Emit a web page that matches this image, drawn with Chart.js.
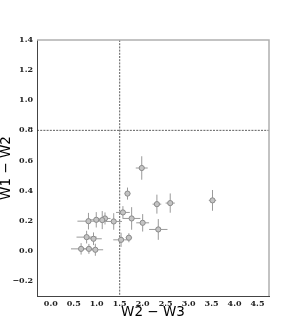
<!DOCTYPE html>
<html><head><meta charset="utf-8">
<script src="https://cdn.jsdelivr.net/npm/chart.js@4"></script>
<style>html,body{margin:0;padding:0;background:#fff}#c{display:block}</style>
</head><body>
<canvas id="c" width="299" height="333"></canvas>
<script>
const xVals = [1.98,1.67,2.31,2.60,3.52,2.34,2.00,1.76,1.57,1.37,1.18,1.12,0.99,0.82,1.53,1.70,0.78,0.93,0.66,0.83,0.97];
const yVals = [0.55,0.38,0.31,0.317,0.335,0.142,0.186,0.215,0.255,0.195,0.215,0.204,0.206,0.197,0.073,0.087,0.091,0.080,0.013,0.013,0.007];
const xErr  = [0.13,0.06,0.095,0.10,0.08,0.20,0.14,0.19,0.15,0.18,0.12,0.05,0.20,0.24,0.17,0.07,0.22,0.18,0.22,0.13,0.17];
const yErr  = [0.078,0.04,0.063,0.064,0.069,0.069,0.058,0.075,0.042,0.055,0.04,0.06,0.051,0.055,0.047,0.03,0.042,0.042,0.038,0.033,0.04];
const xTicks = [0.0,0.5,1.0,1.5,2.0,2.5,3.0,3.5,4.0,4.5];
const yTicks = [-0.2,0.0,0.2,0.4,0.6,0.8,1.0,1.2,1.4];
const xCut = 1.5, yCut = 0.8;

const fmt = v => (v < 0 ? '\u2212' : '') + Math.abs(v).toFixed(1);

const extras = {
  id: 'extras',
  beforeDatasetsDraw(chart) {
    const {ctx, chartArea: a, scales: {x, y}} = chart;
    ctx.save();
    ctx.strokeStyle = '#333';
    ctx.lineWidth = 0.8;
    ctx.setLineDash([2, 1.2]);
    const px = x.getPixelForValue(xCut), py = y.getPixelForValue(yCut);
    ctx.beginPath(); ctx.moveTo(px, a.top); ctx.lineTo(px, a.bottom); ctx.stroke();
    ctx.beginPath(); ctx.moveTo(a.left, py); ctx.lineTo(a.right, py); ctx.stroke();
    ctx.setLineDash([]);
    ctx.strokeStyle = '#9a9a9a';
    ctx.lineWidth = 1;
    for (let i = 0; i < xVals.length; i++) {
      const cx = x.getPixelForValue(xVals[i]), cy = y.getPixelForValue(yVals[i]);
      ctx.beginPath();
      ctx.moveTo(x.getPixelForValue(xVals[i] - xErr[i]), cy);
      ctx.lineTo(x.getPixelForValue(xVals[i] + xErr[i]), cy);
      ctx.moveTo(cx, y.getPixelForValue(yVals[i] - yErr[i]));
      ctx.lineTo(cx, y.getPixelForValue(yVals[i] + yErr[i]));
      ctx.stroke();
    }
    ctx.restore();
  },
  afterDraw(chart) {
    const {ctx, chartArea: a} = chart;
    ctx.save();
    ctx.strokeStyle = '#b0b0b0';
    ctx.lineWidth = 1.5;
    ctx.beginPath();
    ctx.moveTo(a.left, a.top); ctx.lineTo(a.right, a.top); ctx.lineTo(a.right, a.bottom);
    ctx.stroke();
    ctx.restore();
  }
};

new Chart(document.getElementById('c'), {
  type: 'scatter',
  data: {
    datasets: [{
      data: xVals.map((v, i) => ({x: v, y: yVals[i]})),
      pointRadius: 2.6,
      pointBackgroundColor: '#c4c4c4',
      pointBorderColor: '#8a8a8a',
      pointBorderWidth: 1,
      pointHoverRadius: 2.6
    }]
  },
  options: {
    responsive: false,
    animation: false,
    events: [],
    layout: {padding: {top: 40, right: 30, bottom: 12, left: 0}},
    plugins: {legend: {display: false}, tooltip: {enabled: false}},
    scales: {
      x: {
        type: 'linear', min: -0.3, max: 4.75,
        afterBuildTicks: s => { s.ticks = xTicks.map(v => ({value: v})); },
        afterFit: s => { s.height = 25; },
        grid: {display: false, drawTicks: true, tickLength: 3, tickColor: '#444'},
        border: {display: true, color: '#444', width: 1},
        ticks: {callback: v => fmt(v), color: '#222', font: {family: 'DejaVu Serif', size: 8, weight: 'bold'}, padding: 0, maxRotation: 0, autoSkip: false},
        title: {display: true, text: 'W2 \u2212 W3', color: '#000', font: {family: 'DejaVu Sans', size: 13.5}, padding: {top: 0, bottom: 0}}
      },
      y: {
        type: 'linear', min: -0.3, max: 1.4,
        afterBuildTicks: s => { s.ticks = yTicks.map(v => ({value: v})); },
        afterFit: s => { s.width = 37; },
        grid: {display: false, drawTicks: true, tickLength: 3, tickColor: '#444'},
        border: {display: true, color: '#444', width: 1},
        ticks: {callback: v => fmt(v), color: '#222', font: {family: 'DejaVu Serif', size: 8, weight: 'bold'}, padding: 1, autoSkip: false},
        title: {display: true, text: 'W1 \u2212 W2', color: '#000', font: {family: 'DejaVu Sans', size: 13.5}, padding: {top: -2, bottom: 2}}
      }
    }
  },
  plugins: [extras]
});
</script>
</body></html>
